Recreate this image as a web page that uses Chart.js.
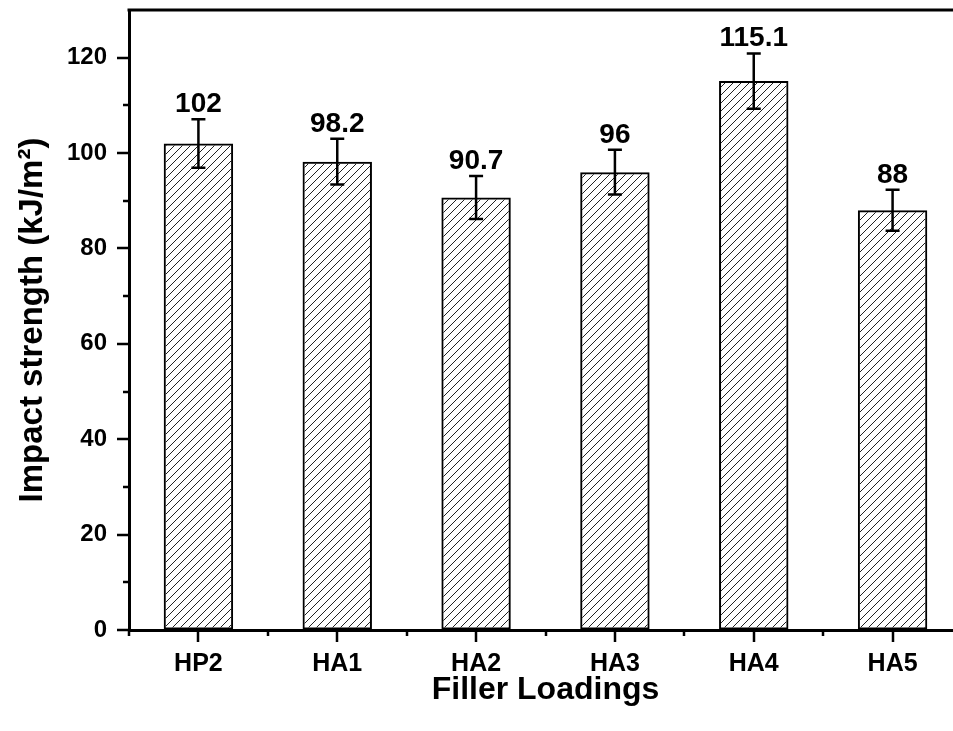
<!DOCTYPE html>
<html>
<head>
<meta charset="utf-8">
<script src="https://cdn.jsdelivr.net/npm/chart.js@4/dist/chart.umd.min.js"></script>
<style>
  html, body { margin: 0; padding: 0; background: #fff; overflow: hidden; }
  #wrap { width: 953px; height: 731px; overflow: hidden; }
  canvas { display: block; }
</style>
</head>
<body>
<div id="wrap"><canvas id="c" width="965" height="731"></canvas></div>
<script>
// Impact strength per filler loading, with standard deviations
const categories = ['HP2', 'HA1', 'HA2', 'HA3', 'HA4', 'HA5'];
const impactValues = [102, 98.2, 90.7, 96, 115.1, 88];
const impactErrors = [5.1, 4.8, 4.5, 4.7, 5.8, 4.3];
const yMajorTicks = [0, 20, 40, 60, 80, 100, 120];
const yMinorTicks = [10, 30, 50, 70, 90, 110];

const FONT = "'Liberation Sans', Arial, sans-serif";

// diagonal hatch fill for the bars
function makeHatch() {
  const s = 8;
  const p = document.createElement('canvas');
  p.width = s; p.height = s;
  const g = p.getContext('2d');
  g.strokeStyle = '#222';
  g.lineWidth = 1;
  g.beginPath();
  g.moveTo(-1, s + 1); g.lineTo(s + 1, -1);
  g.moveTo(-1, 1); g.lineTo(1, -1);
  g.moveTo(s - 1, s + 1); g.lineTo(s + 1, s - 1);
  g.stroke();
  return g.createPattern(p, 'repeat');
}

const ctx = document.getElementById('c').getContext('2d');

// error bars, value labels, tick marks and top frame line
const decorations = {
  id: 'decorations',
  afterDatasetsDraw(chart) {
    const c = chart.ctx;
    const y = chart.scales.y;
    const meta = chart.getDatasetMeta(0);
    c.save();
    c.strokeStyle = '#000';
    c.lineWidth = 2.5;
    c.fillStyle = '#000';
    c.font = 'bold 28px ' + FONT;
    c.textAlign = 'center';
    c.textBaseline = 'alphabetic';
    meta.data.forEach((bar, i) => {
      const v = impactValues[i], e = impactErrors[i];
      const yt = y.getPixelForValue(v + e);
      const yb = y.getPixelForValue(v - e);
      const x = bar.x, cap = 7;
      c.beginPath();
      c.moveTo(x, yt); c.lineTo(x, yb);
      c.moveTo(x - cap, yt); c.lineTo(x + cap, yt);
      c.moveTo(x - cap, yb); c.lineTo(x + cap, yb);
      c.stroke();
      c.fillText(String(v), x, yt - 7);
    });
    c.restore();
  },
  afterDraw(chart) {
    const c = chart.ctx;
    const area = chart.chartArea;
    const x = chart.scales.x, y = chart.scales.y;
    c.save();
    c.strokeStyle = '#000';
    c.lineWidth = 2.5;
    c.beginPath();
    // y-axis ticks (outward, to the left)
    yMajorTicks.forEach(v => {
      const p = Math.round(y.getPixelForValue(v));
      c.moveTo(area.left - 12, p); c.lineTo(area.left, p);
    });
    yMinorTicks.forEach(v => {
      const p = Math.round(y.getPixelForValue(v));
      c.moveTo(area.left - 6, p); c.lineTo(area.left, p);
    });
    // x-axis ticks (outward, downward)
    categories.forEach((_, i) => {
      const p = Math.round(x.getPixelForValue(i));
      c.moveTo(p, area.bottom); c.lineTo(p, area.bottom + 12);
    });
    for (let i = 0; i <= categories.length; i++) {
      const p = Math.round(x.getPixelForValue(i - 0.5));
      c.moveTo(p, area.bottom); c.lineTo(p, area.bottom + 6);
    }
    c.stroke();
    // top frame line
    c.lineWidth = 3;
    c.beginPath();
    c.moveTo(area.left - 1.5, area.top);
    c.lineTo(chart.width, area.top);
    c.stroke();
    c.restore();
  }
};

new Chart(ctx, {
  type: 'bar',
  data: {
    labels: categories,
    datasets: [{
      data: impactValues,
      backgroundColor: makeHatch(),
      borderColor: '#000',
      borderWidth: 2,
      borderSkipped: false,
      barPercentage: 1,
      categoryPercentage: 0.5
    }]
  },
  options: {
    responsive: false,
    devicePixelRatio: 1,
    animation: false,
    layout: { padding: { left: 0, top: 10, right: 3, bottom: 0 } },
    plugins: { legend: { display: false }, tooltip: { enabled: false } },
    scales: {
      x: {
        grid: { display: true, drawOnChartArea: false, drawTicks: false },
        border: { display: true, color: '#000', width: 3 },
        ticks: { color: '#000', padding: 19, font: { family: FONT, size: 25, weight: 'bold' } },
        title: {
          display: true, text: 'Filler Loadings', color: '#000',
          font: { family: FONT, size: 32, weight: 'bold' },
          padding: { top: 0, bottom: 22 }
        },
        afterFit(s) { s.height = 101; s.paddingLeft = 0; s.paddingRight = 0; }
      },
      y: {
        min: 0, max: 130,
        grid: { display: true, drawOnChartArea: false, drawTicks: false },
        border: { display: true, color: '#000', width: 3 },
        ticks: { color: '#000', padding: 22, font: { family: FONT, size: 24, weight: 'bold' } },
        afterBuildTicks(s) { s.ticks = yMajorTicks.map(v => ({ value: v })); },
        title: {
          display: true, text: 'Impact strength (kJ/m²)', color: '#000',
          font: { family: FONT, size: 33, weight: 'bold' },
          padding: { top: 13, bottom: 0 }
        },
        afterFit(s) { s.width = 129; s.paddingTop = 0; s.paddingBottom = 0; }
      }
    }
  },
  plugins: [decorations]
});
</script>
</body>
</html>
